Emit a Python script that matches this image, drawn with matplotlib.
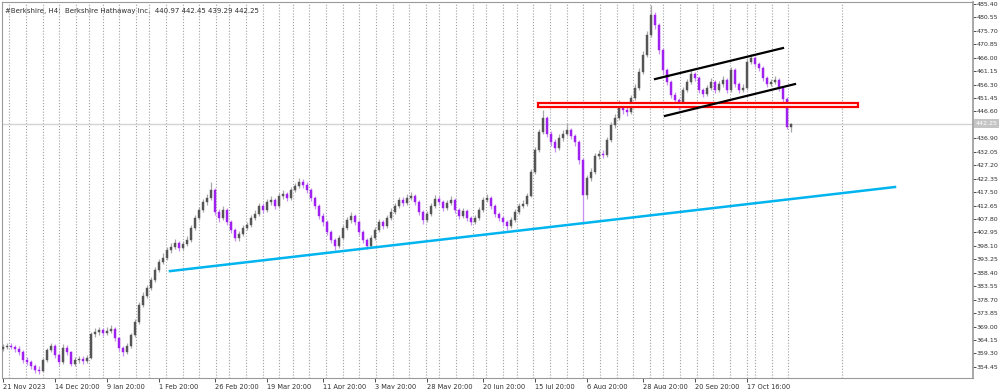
import matplotlib
matplotlib.use("Agg")
import matplotlib.pyplot as plt
from matplotlib.patches import Rectangle
import numpy as np

# H4 bars (one entry per drawn candle)
closes = [
    361.6, 362.0, 361.6, 360.9, 359.8, 356.9, 356.2, 354.8, 353.3, 353.0,
    356.9, 360.5, 362.0, 358.7, 356.2, 361.3, 359.8, 355.5, 356.9, 357.3,
    356.6, 357.6, 366.3, 367.0, 367.7, 366.7, 367.4, 368.1, 364.9, 361.3,
    359.8, 362.0, 365.9, 370.6, 376.8, 380.0, 382.9, 385.8, 389.4, 392.3,
    393.7, 396.6, 397.7, 399.1, 397.3, 398.8, 400.2, 404.6, 408.2, 411.1,
    413.9, 415.4, 418.3, 410.3, 408.2, 411.1, 406.7, 403.8, 401.0, 402.4,
    404.6, 405.6, 408.2, 409.6, 412.5, 411.1, 413.9, 414.7, 412.5, 416.1,
    416.8, 415.4, 418.3, 419.7, 421.2, 420.1, 418.3, 415.4, 412.5, 408.9,
    406.7, 403.1, 400.2, 398.1, 400.9, 404.6, 407.4, 408.9, 406.7, 403.1,
    400.2, 398.1, 401.0, 403.8, 406.7, 405.3, 408.2, 410.3, 412.5, 414.7,
    413.6, 415.4, 416.1, 413.9, 410.3, 407.4, 409.6, 412.5, 415.0, 413.9,
    411.8, 413.6, 414.7, 411.1, 408.9, 410.7, 408.2, 406.7, 408.2, 411.1,
    414.7, 415.4, 412.5, 409.6, 408.2, 406.7, 405.3, 407.4, 410.3, 412.5,
    413.2, 416.1, 424.8, 432.7, 439.2, 444.3, 438.5, 435.6, 433.4, 437.0,
    438.5, 439.9, 437.8, 435.6, 429.1, 416.5, 422.6, 424.8, 430.5, 431.3,
    430.9, 436.3, 441.7, 444.3, 449.3, 447.1, 446.4, 451.5, 455.1, 460.9,
    467.0, 474.2, 481.4, 477.8, 468.8, 461.6, 457.3, 452.6, 450.8, 449.3,
    454.4, 457.3, 460.1, 458.7, 454.4, 452.9, 455.1, 457.3, 454.4, 456.5,
    458.0, 454.4, 461.6, 456.5, 454.4, 455.1, 464.5, 465.9, 463.7, 462.3,
    458.7, 456.5, 457.3, 458.0, 455.1, 451.0, 441.0, 442.25,
]
highs = [
    362.8, 363.0, 362.9, 362.3, 361.8, 360.4, 358.0, 357.0, 355.5, 354.6,
    357.8, 361.4, 363.2, 362.8, 359.4, 362.6, 362.2, 360.3, 357.9, 358.4,
    358.2, 358.9, 367.2, 368.3, 368.9, 368.6, 368.7, 369.4, 368.8, 365.4,
    362.0, 363.0, 366.8, 371.6, 377.9, 381.3, 384.0, 387.0, 390.6, 393.5,
    395.4, 397.8, 399.0, 400.6, 400.0, 399.9, 401.5, 405.6, 409.4, 412.3,
    415.1, 416.8, 421.0, 419.0, 411.4, 412.4, 411.8, 407.5, 404.6, 403.6,
    405.8, 406.9, 409.3, 411.0, 413.6, 413.4, 415.2, 416.0, 415.5, 417.3,
    418.2, 417.6, 419.5, 420.9, 422.6, 422.3, 421.0, 419.0, 416.2, 413.2,
    409.8, 407.4, 403.9, 401.0, 402.0, 405.7, 408.6, 410.2, 409.7, 407.4,
    403.9, 401.0, 402.1, 405.0, 407.8, 407.6, 409.4, 411.6, 413.7, 415.9,
    415.8, 416.7, 417.6, 416.9, 414.6, 411.0, 410.8, 413.7, 416.3, 416.0,
    414.6, 414.8, 416.0, 415.4, 411.9, 411.9, 411.4, 409.0, 409.3, 412.3,
    415.8, 416.7, 416.1, 413.2, 410.4, 409.0, 407.5, 408.5, 411.4, 413.6,
    414.5, 417.3, 425.9, 433.8, 440.4, 447.0, 445.1, 439.4, 436.6, 438.3,
    439.8, 442.6, 440.8, 438.6, 436.3, 429.9, 423.8, 426.1, 431.7, 432.8,
    432.6, 437.5, 442.9, 445.6, 450.6, 450.1, 448.3, 452.7, 456.4, 462.2,
    468.3, 475.6, 485.0, 482.6, 478.6, 469.6, 462.4, 458.1, 453.6, 451.6,
    455.6, 458.5, 461.4, 461.0, 459.5, 455.2, 456.3, 458.6, 458.1, 457.7,
    459.3, 458.8, 462.8, 462.3, 457.3, 456.4, 465.8, 467.3, 466.6, 464.6,
    463.0, 459.5, 458.5, 459.3, 458.8, 455.8, 451.7, 442.45,
]
lows = [
    360.3, 360.9, 360.8, 359.9, 358.7, 355.8, 355.1, 353.6, 352.2, 351.8,
    352.5, 356.2, 359.8, 357.6, 355.0, 355.6, 358.6, 354.6, 354.8, 356.0,
    355.4, 355.9, 357.2, 365.4, 366.1, 365.6, 365.9, 366.6, 363.8, 360.2,
    358.4, 359.1, 361.4, 365.2, 370.0, 375.9, 379.2, 382.1, 385.0, 388.6,
    391.4, 393.0, 395.5, 396.8, 396.2, 396.5, 398.0, 399.6, 403.8, 407.5,
    410.3, 412.9, 414.6, 409.1, 406.8, 407.5, 405.5, 402.6, 399.8, 400.0,
    401.6, 403.7, 404.8, 407.3, 408.8, 410.0, 410.4, 412.8, 411.3, 411.8,
    415.0, 414.2, 414.6, 417.4, 418.9, 419.0, 417.2, 414.2, 411.3, 407.8,
    405.4, 402.0, 399.0, 396.5, 397.4, 400.2, 403.8, 406.5, 405.6, 402.0,
    399.1, 396.8, 397.4, 400.2, 403.1, 404.2, 404.6, 407.4, 409.6, 411.8,
    412.5, 412.8, 414.5, 412.8, 409.2, 406.0, 406.7, 408.9, 411.8, 412.8,
    410.7, 411.0, 412.8, 410.0, 407.8, 408.1, 407.1, 405.5, 406.0, 407.5,
    410.4, 413.9, 411.4, 408.5, 407.0, 405.4, 404.0, 404.6, 406.7, 409.6,
    411.6, 412.5, 415.6, 424.1, 432.0, 438.5, 437.3, 434.2, 432.0, 432.7,
    436.1, 437.6, 436.6, 434.2, 427.8, 406.8, 415.2, 421.5, 424.1, 429.4,
    429.7, 430.2, 435.6, 440.8, 443.5, 445.8, 445.0, 445.7, 450.7, 454.4,
    460.1, 466.3, 473.4, 476.5, 467.5, 460.3, 456.0, 451.3, 449.0, 447.3,
    448.6, 453.6, 456.5, 457.6, 453.2, 451.7, 452.2, 454.4, 453.2, 453.7,
    455.6, 453.2, 453.8, 455.3, 453.1, 453.6, 454.5, 463.6, 462.5, 461.1,
    457.5, 455.3, 455.7, 456.5, 453.9, 449.8, 440.2, 439.29,
]
first_open = 361.0
opens = [first_open] + closes[:-2] + [440.97]

date_labels = ["21 Nov 2023", "14 Dec 20:00", "9 Jan 20:00", "1 Feb 20:00",
               "26 Feb 20:00", "19 Mar 20:00", "11 Apr 20:00", "3 May 20:00",
               "28 May 20:00", "20 Jun 20:00", "15 Jul 20:00", "6 Aug 20:00",
               "28 Aug 20:00", "20 Sep 20:00", "17 Oct 16:00"]
date_bars = [0, 13, 26, 39, 53, 66, 80, 93, 106, 120, 133, 146, 160, 173, 186]

price_ticks = [485.40, 480.55, 475.70, 470.85, 466.00, 461.15, 456.30, 451.45,
               446.60, 436.90, 432.05, 427.20, 422.35, 417.50, 412.65,
               407.80, 402.95, 398.10, 393.25, 388.40, 383.55, 378.70, 373.85,
               369.00, 364.15, 359.30, 354.45]

# weekly separators (bar positions)
separators = [1.5, 5.75, 10, 14, 18.25, 21.5, 25, 29, 33.25, 36.5, 40.75, 45,
              49, 53.25, 56.5, 60.75, 65, 69, 72.5, 76.5, 80.75, 85, 89, 93.25,
              97.5, 101.5, 105.75, 109, 113.25, 117.5, 120.75, 125, 128.5, 132.5,
              136.75, 141, 145, 149.25, 153.5, 157.5, 161.75, 165, 169.25, 173.5,
              177.5, 181.75, 186, 188, 192.25, 196.25, 209.75]

last_price = 442.25
header = "#Berkshire, H4:  Berkshire Hathaway Inc.  440.97 442.45 439.29 442.25"

# drawn objects: (bar, price) end points
support_line = [(41.75, 389.0), (223.0, 419.35)]
channel_top = [(163.0, 458.3), (195.0, 469.5)]
channel_bottom = [(165.5, 445.0), (198.0, 456.5)]
resistance_zone = (133.75, 213.75, 448.3, 449.6)

BULL = "#555555"
BULL_WICK = "#a8a8a8"
BEAR = "#a020f0"
BEAR_WICK = "#c890f5"

fig = plt.figure(figsize=(10, 3.89), dpi=100)
ax = fig.add_axes([0.002, 0.0283, 0.971, 0.9666])
ax.set_facecolor("white")

for s in separators:
    ax.axvline(s, color="#a0a0a0", lw=0.8, ls=(0, (1, 1.6)), zorder=0)

ax.axhline(last_price, color="#d4d4d4", lw=1.0, zorder=1)

idx = np.arange(len(closes))
o = np.array(opens)
c = np.array(closes)
h = np.array(highs)
l = np.array(lows)
up = c >= o

ax.vlines(idx[up], l[up], h[up], color=BULL_WICK, lw=0.9, zorder=2)
ax.vlines(idx[~up], l[~up], h[~up], color=BEAR_WICK, lw=0.9, zorder=2)
body = np.maximum(np.abs(c - o), 0.25)
ax.bar(idx[up], body[up], bottom=np.minimum(o, c)[up], width=0.5,
       color=BULL, edgecolor=BULL, lw=0.3, zorder=3)
ax.bar(idx[~up], body[~up], bottom=np.minimum(o, c)[~up], width=0.5,
       color=BEAR, edgecolor=BEAR, lw=0.3, zorder=3)

x0, x1, p0, p1 = resistance_zone
ax.add_patch(Rectangle((x0, p0), x1 - x0, p1 - p0, facecolor="white",
                       edgecolor="#ff0000", lw=1.6, zorder=4))

(a, b), (cc, d) = support_line
ax.plot([a, cc], [b, d], color="#00b4f0", lw=1.8, zorder=5)
for line in (channel_top, channel_bottom):
    (a, b), (cc, d) = line
    ax.plot([a, cc], [b, d], color="black", lw=1.6, zorder=5)

ax.set_xlim(-0.25, 242.5)
ax.set_ylim(350.43, 486.12)

ax.yaxis.tick_right()
ax.set_yticks(price_ticks)
ax.set_yticklabels([f"{p:.2f}" for p in price_ticks])
ax.set_xticks(date_bars)
ax.set_xticklabels(date_labels, ha="left")
ax.tick_params(axis="both", labelsize=4.5, colors="#303030", length=2,
               width=0.6, pad=0.8)
ax.tick_params(axis="x", labelsize=4.8, pad=1.5, length=3)
for lab in ax.get_xticklabels():
    lab.set_horizontalalignment("left")

for sp in ax.spines.values():
    sp.set_color("#9a9a9a")
    sp.set_linewidth(0.8)
ax.spines["right"].set_linewidth(1.2)

ax.text(1.003, last_price, f"{last_price:.2f}", transform=ax.get_yaxis_transform(),
        fontsize=4.5, color="white", va="center", ha="left",
        bbox=dict(boxstyle="square,pad=0.25", facecolor="#c4c4c4", edgecolor="none"))

ax.text(0.003, 0.985, header, transform=ax.transAxes, fontsize=5,
        color="#303030", va="top", ha="left")

fig.savefig("out.png", dpi=100)
